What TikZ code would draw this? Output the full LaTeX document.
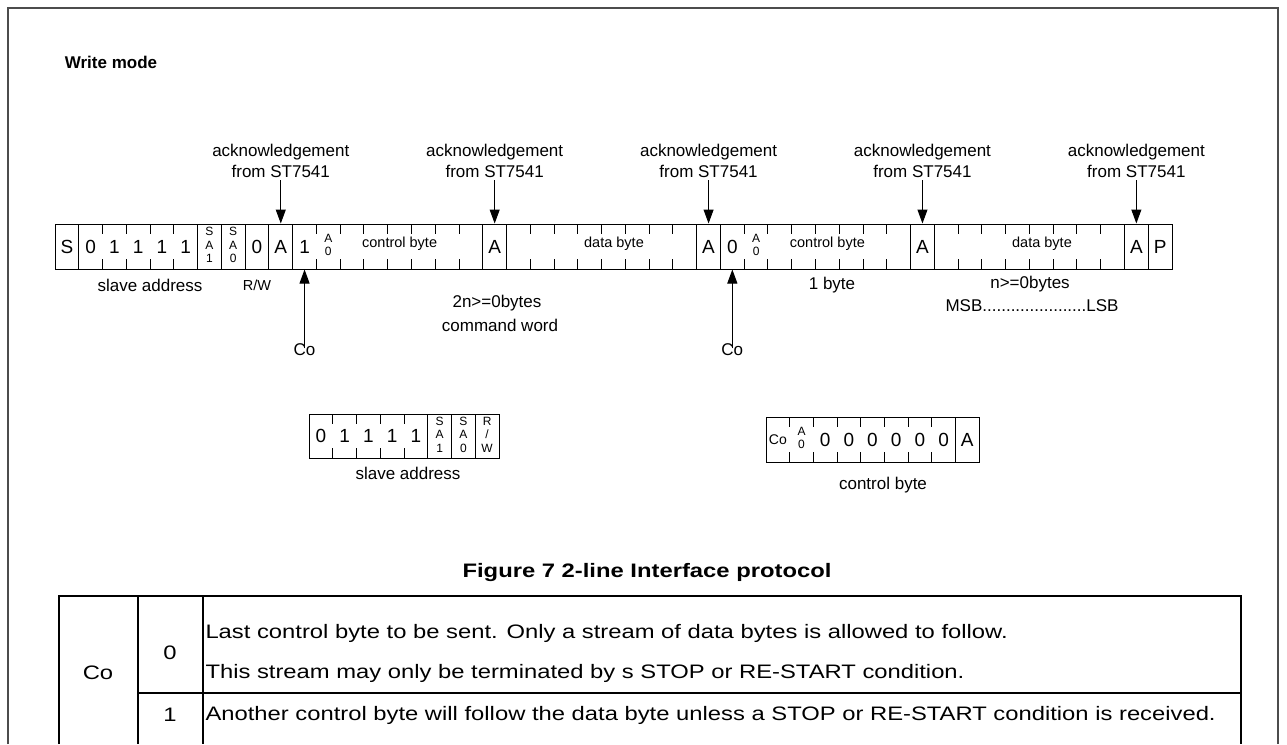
\documentclass[tikz,border=0pt]{standalone}
\usepackage{fontspec}
\setmainfont{Liberation Sans}
\newfontfamily\wideface[FakeStretch=1.22]{Liberation Sans}
\usetikzlibrary{arrows.meta}

\newcommand{\bstack}[1]{{\fontsize{12}{13.5}\selectfont\begin{tabular}{@{}c@{}}#1\end{tabular}}}
\newcommand{\cellw}{23.766}
\newcommand{\slvw}{23.75}
\newcommand{\ctlw}{23.67}

\begin{document}
\begin{tikzpicture}[x=1pt,y=-1pt,line width=1pt,
  cell/.style={minimum width=\cellw pt,minimum height=45pt,inner sep=0pt,
               font=\fontsize{19}{22}\selectfont},
  lbl/.style={font=\fontsize{17}{21}\selectfont,align=center,inner sep=2pt},
  small/.style={font=\fontsize{14.5}{17}\selectfont,inner sep=0pt},
  arrow/.style={-{Triangle[width=10pt,length=14pt]},line width=1pt},
  tabline/.style={line width=2pt,black},
  tabtxt/.style={font=\wideface\fontsize{19.5}{23}\selectfont,inner sep=1pt}]

\useasboundingbox (0,0) rectangle (1287,744);
\draw[black!70,line width=2pt] (8,744) -- (8,8) -- (1278,8) -- (1278,744);

\node[font=\bfseries\fontsize{17}{20}\selectfont] (title) at (111,62) {Write mode};

%% ---------- write sequence ----------
\draw (55,224) rectangle (1172,269);
\foreach \k in {1,6,7,8,9,10,18,19,27,28,36,37,45,46}
  \draw ({55+\k*\cellw},224) -- ++(0,45);
\foreach \a/\b in {2/5,11/17,20/26,29/35,38/44}
  \foreach \k in {\a,...,\b}
    \draw ({55+\k*\cellw},224) -- ++(0,10) ({55+\k*\cellw},269) -- ++(0,-10);
% bits
\foreach \i/\t in {0/S,1/0,2/1,3/1,4/1,5/1,6/{\bstack{S\\A\\1}},7/{\bstack{S\\A\\0}},
                   8/0,9/A,10/1,11/{\bstack{A\\0}},18/A,27/A,28/0,29/{\bstack{A\\0}},
                   36/A,45/A,46/P}
  \node[cell] (b\i) at ({55+(\i+0.5)*\cellw},246.5) {\t};
\node[small] (cb1) at ({55+14.5*\cellw},244) {control byte};
\node[small] (db1) at (614,244) {data byte};
\node[small] (cb2) at ({55+32.5*\cellw},244) {control byte};
\node[small] (db2) at (1042,244) {data byte};

% acknowledgements
\foreach \n/\c in {1/9,2/18,3/27,4/36,5/45}
  \node[lbl,anchor=south] (ack\n) at (b\c.center |- 0,180) {acknowledgement\\from ST7541};
\foreach \n/\c in {1/9,2/18,3/27,4/36,5/45}
  \draw[arrow] (ack\n.south) -- (b\c.north);

% Co arrows
\node[lbl] (co1) at (b10.center |- 0,350) {Co};
\node[lbl] (co2) at (b28.center |- 0,350) {Co};
\draw[arrow] ([yshift=-7pt]co1.north) -- (b10.south);
\draw[arrow] ([yshift=-7pt]co2.north) -- (b28.south);

% labels under the sequence
\node[lbl] (slv1) at (150,285) {slave address};
\node[small] (rw) at (b8.center |- 0,285) {R/W};
\node[lbl] (cnt1) at (497,303) {2n>=0bytes};
\node[lbl] (cmd) at (500,325) {command word};
\node[lbl] (one) at (832,285) {1 byte};
\node[lbl] (cnt2) at (1030,284) {n>=0bytes};
\node[lbl] (msb) at (1032,306) {MSB......................LSB};

%% ---------- slave address ----------
\draw (309,414) rectangle (499,458);
\foreach \k in {5,6,7}
  \draw ({309+\k*\slvw},414) -- ++(0,44);
\foreach \k in {1,...,4}
  \draw ({309+\k*\slvw},414) -- ++(0,10) ({309+\k*\slvw},458) -- ++(0,-10);
\foreach \i/\t in {0/0,1/1,2/1,3/1,4/1,5/{\bstack{S\\A\\1}},6/{\bstack{S\\A\\0}},
                   7/{\bstack{R\\/\\W}}}
  \node[cell,minimum height=44pt] (s\i) at ({309+(\i+0.5)*\slvw},436) {\t};
\node[lbl] (slv2) at (408,473) {slave address};

%% ---------- control byte ----------
\draw (766,417) rectangle (979,462);
\draw ({766+8*\ctlw},417) -- ++(0,45);
\foreach \k in {1,...,7}
  \draw ({766+\k*\ctlw},417) -- ++(0,10) ({766+\k*\ctlw},462) -- ++(0,-10);
\foreach \i/\t in {0/{{\fontsize{14}{16}\selectfont Co}},1/{\bstack{A\\0}},
                   2/0,3/0,4/0,5/0,6/0,7/0,8/A}
  \node[cell] (c\i) at ({766+(\i+0.5)*\ctlw},439.5) {\t};
\node[lbl] (ctl) at (883,485) {control byte};

%% ---------- caption and table ----------
\node[tabtxt,font=\wideface\bfseries\fontsize{19.5}{23}\selectfont] (cap) at (647,572)
  {Figure 7 2-line Interface protocol};
\draw[tabline] (59,744) -- (59,596) -- (1241,596) -- (1241,744);
\draw[tabline] (138,596) -- (138,744);
\draw[tabline] (203,596) -- (203,744);
\draw[tabline] (138,693) -- (1241,693);
\node[tabtxt] (tco) at (98,673) {Co};
\node[tabtxt] (t0) at (170,653) {0};
\node[tabtxt] (t1) at (170,715) {1};
\node[tabtxt,anchor=west] (r1) at (204,633)
  {Last control byte to be sent. Only a stream of data bytes is allowed to follow.};
\node[tabtxt,anchor=west] (r2) at (204,673)
  {This stream may only be terminated by s STOP or RE-START condition.};
\node[tabtxt,anchor=west] (r3) at (204,715)
  {Another control byte will follow the data byte unless a STOP or RE-START condition is received.};

\end{tikzpicture}
\end{document}
